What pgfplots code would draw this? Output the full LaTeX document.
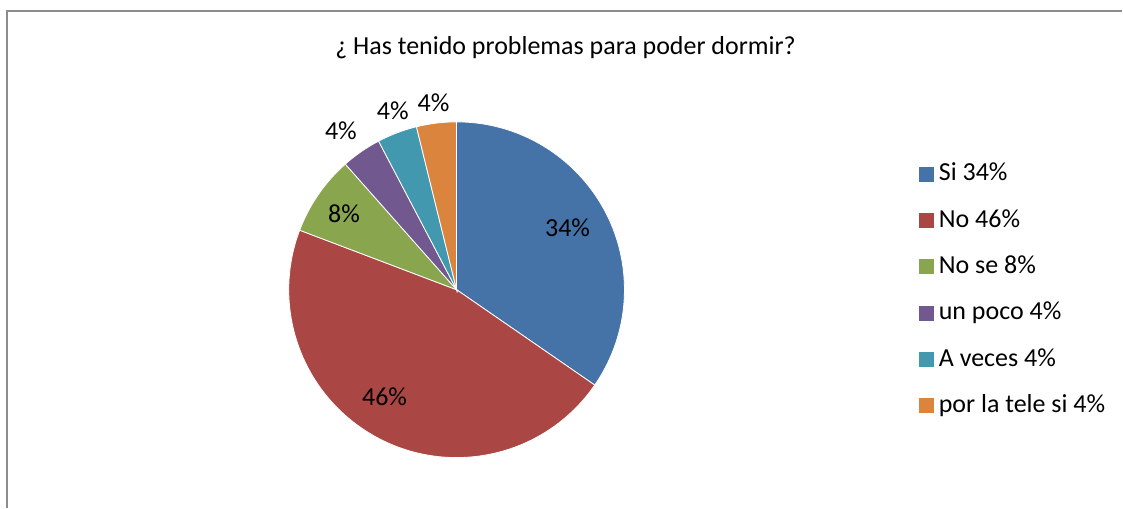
\documentclass[border=0pt]{standalone}
\usepackage{fontspec}
\setmainfont{Carlito}
\usepackage{pgfplots}
\usepackage{pgfplotstable}
\pgfplotsset{compat=1.18}

\definecolor{cSi}{HTML}{4572A7}
\definecolor{cNo}{HTML}{AA4643}
\definecolor{cNose}{HTML}{89A54E}
\definecolor{cPoco}{HTML}{71588F}
\definecolor{cVeces}{HTML}{4198AF}
\definecolor{cTele}{HTML}{DB843D}
\definecolor{framegray}{HTML}{8C8C8C}

\newcommand\chartfont{\fontsize{19.5}{23}\selectfont}

% respuestas (26 personas), porcentaje mostrado, color,
% y posicion de la etiqueta (radio, desvio de angulo)
\pgfplotstableread{
n  pct col    lr   da
9  34  cSi    127  1.3
12 46  cNo    129  -6.3
2  8   cNose  136  0.6
1  4   cPoco  197  1.4
1  4   cVeces 190  -1.1
1  4   cTele  189  0.1
}\piedata

\begin{document}
\begin{tikzpicture}
\begin{axis}[
  scale only axis, width=842.25pt, height=381pt,
  xmin=0, xmax=1123, ymin=0, ymax=508,
  hide axis, clip=false,
  legend image code/.code={\fill[#1,draw=none] (0pt,-5.6pt) rectangle (11pt,5.6pt);},
  legend cell align=left,
  legend style={draw=none, fill=none, inner sep=0pt, outer sep=0pt,
    at={(axis cs:920,345.7)}, anchor=north west,
    font=\chartfont,
    nodes={inner sep=0pt, text height=14pt, text depth=4pt},
    row sep=16.8pt, column sep=3.75pt},
]
\path (axis cs:0,0) rectangle (axis cs:1123,508);
\draw[framegray, line width=1.5pt] (axis cs:7,0) -- (axis cs:7,497) -- (axis cs:1123,497);
\node[font=\chartfont] at (axis cs:566,460) {¿ Has tenido problemas para poder dormir?};

% total
\pgfplotstablegetrowsof{\piedata}
\pgfmathtruncatemacro\lastrow{\pgfplotsretval-1}
\def\total{0}
\pgfplotsforeachungrouped \i in {0,...,\lastrow} {
  \pgfplotstablegetelem{\i}{n}\of\piedata
  \pgfmathsetmacro\total{\total+\pgfplotsretval}
}

% porciones, en sentido horario desde arriba
\def\angA{90}
\pgfplotsforeachungrouped \i in {0,...,\lastrow} {
  \pgfplotstablegetelem{\i}{n}\of\piedata \let\val\pgfplotsretval
  \pgfplotstablegetelem{\i}{pct}\of\piedata \let\pcttext\pgfplotsretval
  \pgfplotstablegetelem{\i}{col}\of\piedata \let\scol\pgfplotsretval
  \pgfplotstablegetelem{\i}{lr}\of\piedata \let\rl\pgfplotsretval
  \pgfplotstablegetelem{\i}{da}\of\piedata \let\dang\pgfplotsretval
  \pgfmathsetmacro\angB{\angA-360*\val/\total}
  \pgfmathsetmacro\angM{(\angA+\angB)/2+\dang}
  \pgfmathsetmacro\xs{457+168*cos(\angA)}
  \pgfmathsetmacro\ys{218+168*sin(\angA)}
  \pgfmathsetmacro\xl{457+\rl*cos(\angM)}
  \pgfmathsetmacro\yl{218+\rl*sin(\angM)}
  \edef\slice{\noexpand\fill[\scol, draw=white, line width=0.6pt]
    (axis cs:457,218) -- (axis cs:\xs,\ys)
    arc[start angle=\angA, end angle=\angB, radius=126pt] -- cycle;
    \noexpand\node[font=\noexpand\chartfont] at (axis cs:\xl,\yl) {\pcttext\noexpand\%};}
  \slice
  \let\angA\angB
}

\addlegendimage{fill=cSi}\addlegendentry{Si 34\%}
\addlegendimage{fill=cNo}\addlegendentry{No 46\%}
\addlegendimage{fill=cNose}\addlegendentry{No se 8\%}
\addlegendimage{fill=cPoco}\addlegendentry{un poco 4\%}
\addlegendimage{fill=cVeces}\addlegendentry{A veces 4\%}
\addlegendimage{fill=cTele}\addlegendentry{por la tele si 4\%}
\end{axis}
\end{tikzpicture}
\end{document}
